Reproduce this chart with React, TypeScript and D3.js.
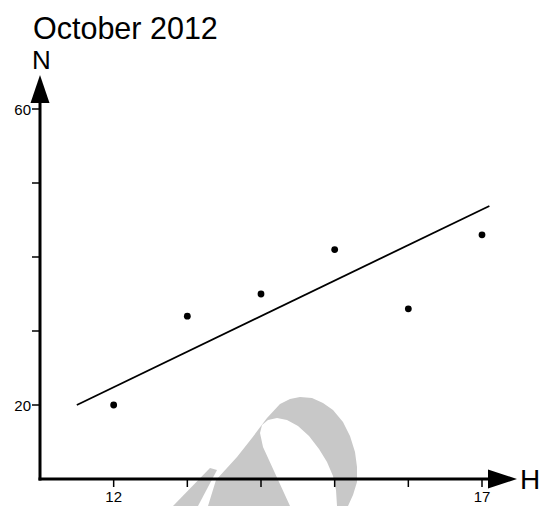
import React from "react";
import * as d3 from "d3";

const title = "October 2012";
const xLabel = "H";
const yLabel = "N";
const hours = [12, 13, 14, 15, 16, 17];
const counts = [20, 32, 35, 41, 33, 43];
const trendX = [11.5, 17.1];
const trendY = [20, 46.9];
const xTicks = [12, 13, 14, 15, 16, 17];
const xTickLabels = ["12", "", "", "", "", "17"];
const yTicks = [20, 30, 40, 50, 60];
const yTickLabels = ["20", "", "", "", "60"];

// decorative watermark outline (screen pixels)
const wmLeft: [number, number][] = [
  [173, 506], [210, 468], [217, 470], [198, 506],
];
const wmMain: [number, number][] = [
  [208, 506], [216, 480], [237, 457], [252, 438], [267, 418], [280, 404], [290, 399],
  [300, 397], [312, 398], [323, 403], [333, 410], [343, 422], [350, 436], [355, 452],
  [357, 467], [357, 482], [353, 495], [348, 506], [337, 506], [336, 490], [333, 476],
  [327, 462], [319, 449], [309, 436], [298, 426], [287, 420], [277, 418], [268, 420],
  [262, 425], [260, 433], [263, 447], [290, 506],
];

const W = 541;
const H = 506;
const font = "Arial, 'Liberation Sans', sans-serif";

export default function App() {
  const x = d3.scaleLinear().domain([11, 17]).range([40, 482]);
  const y = d3.scaleLinear().domain([10, 60]).range([479, 109]);
  const x0 = x(11);
  const y0 = y(10);
  const line = d3
    .line<number>()
    .x((_, i) => x(trendX[i]))
    .y((d) => y(d));
  const poly = d3.line().curve(d3.curveLinearClosed);

  return (
    <svg
      width={W}
      height={H}
      style={{ position: "absolute", left: 0, top: 0, background: "#fff" }}
    >
      <rect width={W} height={H} fill="#fff" />
      <path d={poly(wmLeft) || ""} fill="#c8c8c8" />
      <path d={poly(wmMain) || ""} fill="#c8c8c8" />
      <text x={33} y={39} fontFamily={font} fontSize={30.5} fill="#000">
        {title}
      </text>
      <text x={32} y={69} fontFamily={font} fontSize={26} fill="#000">
        {yLabel}
      </text>
      <text x={520} y={489} fontFamily={font} fontSize={28} fill="#000">
        {xLabel}
      </text>
      {/* axes */}
      <line x1={x0} y1={y0 + 1.5} x2={x0} y2={103} stroke="#000" strokeWidth={3} />
      <polygon points={`${x0},75 ${x0 - 9.5},103 ${x0 + 9.5},103`} fill="#000" />
      <line x1={x0 - 1.5} y1={y0} x2={489} y2={y0} stroke="#000" strokeWidth={3} />
      <polygon points={`517,${y0} 488,${y0 - 9.5} 488,${y0 + 9.5}`} fill="#000" />
      {yTicks.map((t, i) => (
        <g key={"y" + t}>
          <line x1={x0 - 8} x2={x0} y1={y(t)} y2={y(t)} stroke="#000" strokeWidth={1.5} />
          <text
            x={x0 - 9}
            y={y(t) + 5.5}
            textAnchor="end"
            fontFamily={font}
            fontSize={15}
            fill="#000"
          >
            {yTickLabels[i]}
          </text>
        </g>
      ))}
      {xTicks.map((t, i) => (
        <g key={"x" + t}>
          <line x1={x(t)} x2={x(t)} y1={y0} y2={y0 + 8} stroke="#000" strokeWidth={1.5} />
          <text
            x={x(t)}
            y={502}
            textAnchor="middle"
            fontFamily={font}
            fontSize={15}
            fill="#000"
          >
            {xTickLabels[i]}
          </text>
        </g>
      ))}
      <path d={line(trendY) || ""} fill="none" stroke="#000" strokeWidth={1.8} />
      {hours.map((h, i) => (
        <circle key={h} cx={x(h)} cy={y(counts[i])} r={3.4} fill="#000" />
      ))}
    </svg>
  );
}
